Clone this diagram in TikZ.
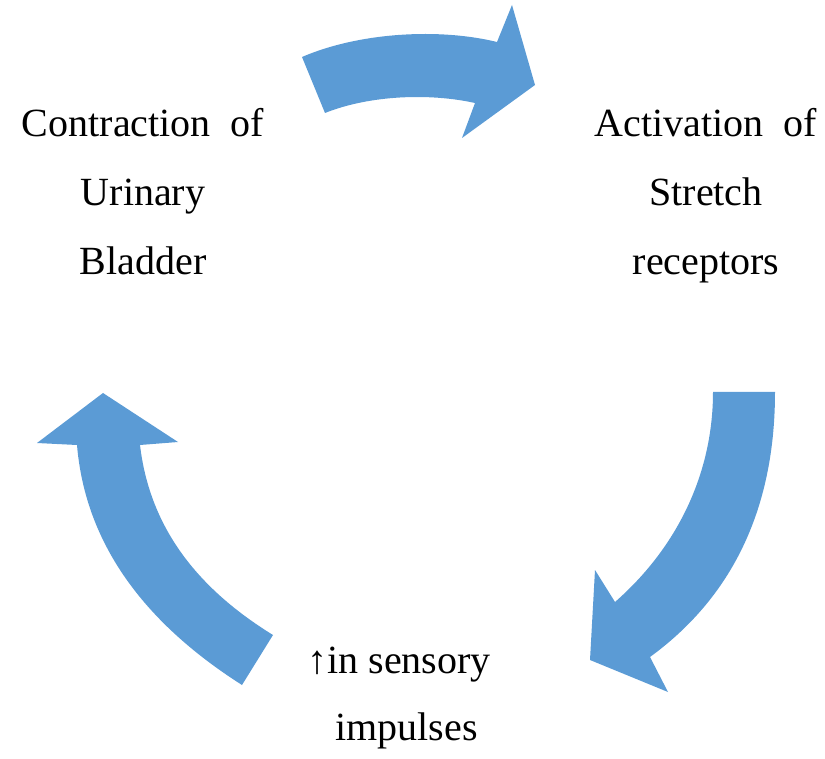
\documentclass[tikz,border=0pt]{standalone}
\usepackage{fontspec}
\setmainfont{Liberation Serif}
\definecolor{flowblue}{RGB}{91,155,213}
\begin{document}
\begin{tikzpicture}[x=1pt, y=-1pt,
  lbl/.style={align=center, inner sep=0pt, anchor=base, font=\fontsize{40}{69}\selectfont},
  bigarrow/.style={fill=flowblue, draw=none}]
\useasboundingbox (0,0) rectangle (825,759);
\node[lbl] (contraction) at (143,275) {Contraction\ \ of\\Urinary\\Bladder};
\node[lbl] (activation) at (706,275) {Activation\ \ of\\Stretch\\receptors};
\node[lbl, font=\fontsize{40}{67}\selectfont] (impulses) at (399,740) {↑in sensory\\\hspace*{15pt}impulses};
% top arrow
\fill[bigarrow] (302,57) .. controls (360,32) and (440,28) .. (497,42) -- (512,5) -- (535,85)
  -- (462,138) -- (475,103) .. controls (430,93) and (370,95) .. (325,113) -- cycle;
% right arrow
\fill[bigarrow] (713,392) -- (775,392) .. controls (775,505) and (735,595) .. (650,657) -- (668,692)
  -- (590,660) -- (595,570) -- (615,602) .. controls (680,545) and (713,470) .. (713,392) -- cycle;
% left arrow
\fill[bigarrow] (103,393) -- (178,442) -- (140,445) .. controls (150,530) and (200,590) .. (273,635)
  -- (242,685) .. controls (140,620) and (85,540) .. (77,445) -- (37,443) -- cycle;
\end{tikzpicture}
\end{document}
